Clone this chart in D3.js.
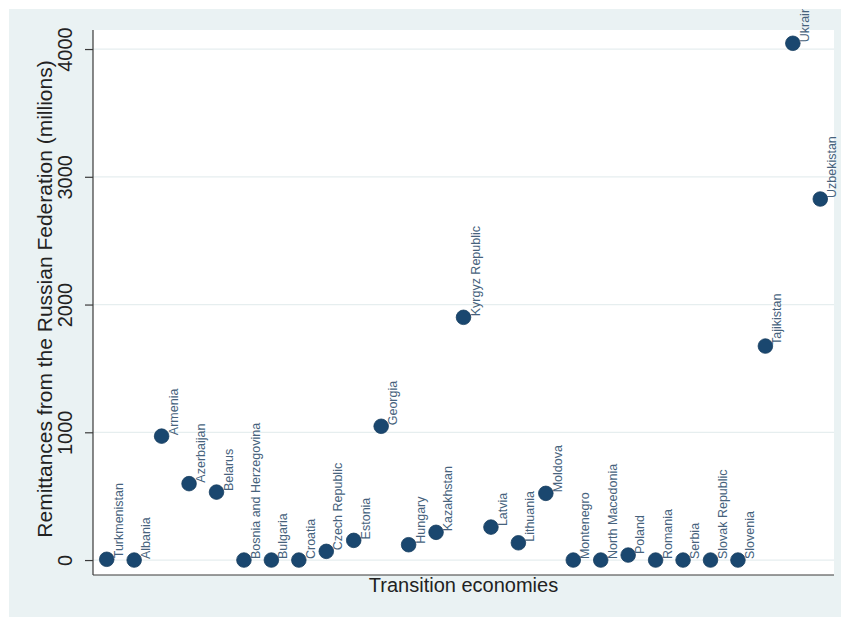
<!DOCTYPE html>
<html>
<head>
<meta charset="utf-8">
<script src="https://cdn.jsdelivr.net/npm/d3@7"></script>
<style>
  html, body { margin: 0; padding: 0; background: #ffffff; }
  svg { display: block; }
</style>
</head>
<body>
<script>
const countries = ["Turkmenistan","Albania","Armenia","Azerbaijan","Belarus","Bosnia and Herzegovina","Bulgaria","Croatia","Czech Republic","Estonia","Georgia","Hungary","Kazakhstan","Kyrgyz Republic","Latvia","Lithuania","Moldova","Montenegro","North Macedonia","Poland","Romania","Serbia","Slovak Republic","Slovenia","Tajikistan","Ukraine","Uzbekistan"];
const remittances = [6,0,970,598,532,0,0,0,68,154,1047,120,217,1900,258,135,522,0,0,39,0,0,0,0,1675,4045,2826];
const yTicks = [0,1000,2000,3000,4000];
const yTitle = "Remittances from the Russian Federation (millions)";
const xTitle = "Transition economies";

const W = 841, H = 618;
const svg = d3.select("body").append("svg").attr("width", W).attr("height", H);

svg.append("defs").append("clipPath").attr("id","fig")
  .append("rect").attr("x",9).attr("y",9).attr("width",W-9).attr("height",H-10);

const fig = svg.append("g").attr("clip-path","url(#fig)");
fig.append("rect").attr("x",9).attr("y",9).attr("width",W-9).attr("height",H-10).attr("fill","#eaf2f3");

const plot = {left:93, right:834, top:30, bottom:575};
fig.append("rect").attr("x",plot.left).attr("y",plot.top)
  .attr("width",plot.right-plot.left).attr("height",plot.bottom-plot.top).attr("fill","#ffffff");

const x = d3.scaleLinear().domain([0.5, countries.length + 0.5]).range([plot.left, plot.right]);
const y = d3.scaleLinear().domain([-117, 4149]).range([plot.bottom, plot.top]);

// gridlines
fig.append("g").selectAll("line").data(yTicks).join("line")
  .attr("x1",plot.left).attr("x2",plot.right)
  .attr("y1",d=>y(d)).attr("y2",d=>y(d))
  .attr("stroke","#e6eeef").attr("stroke-width",1.2);

// y axis
const yAxis = d3.axisLeft(y).tickValues(yTicks).tickSize(8).tickFormat(d3.format("d"));
const ya = fig.append("g").attr("transform",`translate(${plot.left},0)`).call(yAxis);
ya.select(".domain").attr("d",`M0,${plot.top}V${plot.bottom}`).attr("stroke","#3a3a3a").attr("stroke-width",1.2);
ya.selectAll(".tick line").attr("stroke","#3a3a3a").attr("stroke-width",1.2);
ya.selectAll(".tick text")
  .attr("x",null).attr("dy",null)
  .attr("transform","translate(-21,0) rotate(-90)")
  .attr("text-anchor","middle")
  .attr("font-family","'Liberation Sans', Arial, Helvetica, sans-serif")
  .attr("font-size",20).attr("fill","#222");

// x axis line
fig.append("line").attr("x1",plot.left).attr("x2",plot.right)
  .attr("y1",plot.bottom).attr("y2",plot.bottom)
  .attr("stroke","#3a3a3a").attr("stroke-width",1.2);

// titles
fig.append("text").attr("transform",`translate(52,299) rotate(-90)`)
  .attr("text-anchor","middle")
  .attr("font-family","'Liberation Sans', Arial, Helvetica, sans-serif")
  .attr("font-size",21).attr("fill","#222").text(yTitle);
fig.append("text").attr("x",(plot.left+plot.right)/2).attr("y",592)
  .attr("text-anchor","middle")
  .attr("font-family","'Liberation Sans', Arial, Helvetica, sans-serif")
  .attr("font-size",20).attr("fill","#222").text(xTitle);

// points
const data = countries.map((c,i)=>({name:c, idx:i+1, v:remittances[i]}));
fig.append("g").selectAll("circle").data(data).join("circle")
  .attr("cx",d=>x(d.idx)).attr("cy",d=>y(d.v)).attr("r",7.3)
  .attr("fill","#1a476f").attr("stroke","#163d60").attr("stroke-width",0.8);

// labels
fig.append("g").selectAll("text").data(data).join("text")
  .attr("transform",d=>`translate(${x(d.idx)+16},${y(d.v)-1}) rotate(-90)`)
  .attr("text-anchor","start")
  .attr("font-family","'Liberation Sans', Arial, Helvetica, sans-serif")
  .attr("font-size",12.5).attr("fill","#46627c").text(d=>d.name);
</script>
</body>
</html>
